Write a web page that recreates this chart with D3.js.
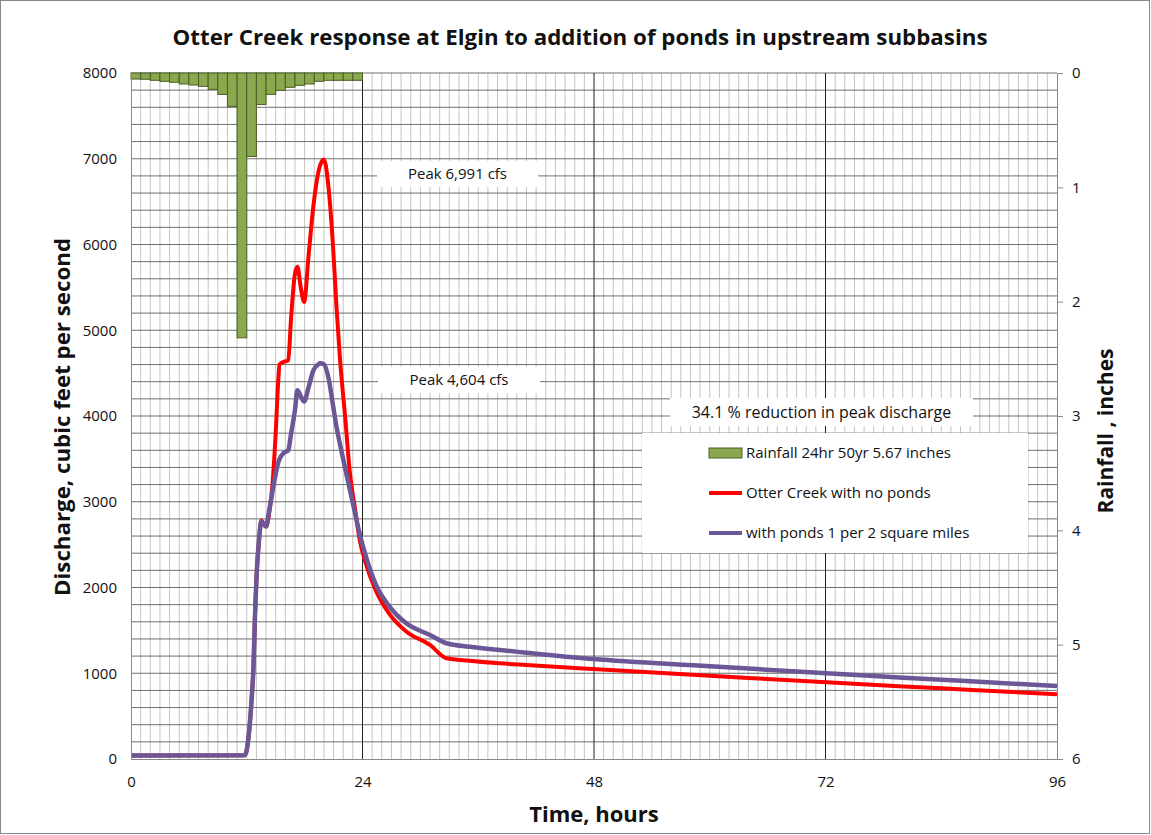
<!DOCTYPE html>
<html>
<head>
<meta charset="utf-8">
<script src="https://cdn.jsdelivr.net/npm/d3@7"></script>
<style>
  body { margin: 0; background: #fff; }
  text { font-family: "Open Sans", "Liberation Sans", sans-serif; }
</style>
</head>
<body>
<script>
// Valeurs
var heures = [0, 11.8, 12.15, 12.5, 12.7, 12.85, 13.0, 13.3, 13.5, 14.0, 14.3, 14.7, 15.0, 15.25, 15.4, 15.8,
  16.3, 16.6, 17.0, 17.25, 17.6, 17.95, 18.4, 18.9, 19.4, 19.6, 20.0, 20.5, 20.95, 21.3, 21.65, 22.2, 22.7,
  23.2, 23.7, 24.4, 25.4, 26.8, 28.5, 31.0, 32.7, 35.1, 38.2, 41.0, 47.9, 60, 72.1, 84, 96];
var sansBassins = [40, 45, 220, 690, 1080, 1660, 2090, 2590, 2780, 2710, 2850, 3250, 3800, 4380, 4600, 4630,
  4650, 5150, 5660, 5740, 5500, 5330, 5860, 6440, 6830, 6920, 6991, 6640, 5970, 5280, 4690, 3990, 3330,
  2940, 2560, 2260, 1960, 1690, 1490, 1330, 1175, 1146, 1116, 1096, 1050, 972, 894, 824, 754];
var avecBassins = [40, 45, 220, 690, 1080, 1660, 2090, 2590, 2770, 2710, 2880, 3140, 3320, 3450, 3500, 3565,
  3600, 3800, 4070, 4300, 4230, 4170, 4330, 4530, 4600, 4614, 4604, 4430, 4120, 3875, 3680, 3390, 3137,
  2880, 2630, 2345, 2030, 1776, 1585, 1446, 1350, 1310, 1271, 1240, 1166, 1083, 999, 925, 851];
// Pluie horaire (pouces), heures 0 a 23
var pluie = [0.053, 0.055, 0.064, 0.073, 0.081, 0.096, 0.105, 0.117, 0.143, 0.187, 0.292, 2.316,
  0.73, 0.275, 0.187, 0.152, 0.125, 0.108, 0.096, 0.073, 0.064, 0.064, 0.064, 0.064];
var ticksX = [0, 24, 48, 72, 96];
var ticksQ = [0, 1000, 2000, 3000, 4000, 5000, 6000, 7000, 8000];
var ticksP = [0, 1, 2, 3, 4, 5, 6];

var larg = 1151, haut = 835;
var m = {left: 131, right: 1057, top: 73, bottom: 759};

var svg = d3.select("body").append("svg")
  .attr("width", larg).attr("height", haut);

svg.append("rect").attr("x", 0.5).attr("y", 0.5)
  .attr("width", larg - 2).attr("height", haut - 2)
  .attr("fill", "#fff").attr("stroke", "#888");

var x = d3.scaleLinear().domain([0, 96]).range([m.left, m.right]);
var y = d3.scaleLinear().domain([0, 8000]).range([m.bottom, m.top]);
var y2 = d3.scaleLinear().domain([0, 6]).range([m.top, m.bottom]);

// Grille
var grille = svg.append("g");
grille.selectAll("line.v")
  .data(d3.range(1, 97).filter(function(h) { return h % 24 != 0; }))
  .enter().append("line")
  .attr("x1", function(d) { return x(d); }).attr("x2", function(d) { return x(d); })
  .attr("y1", m.top).attr("y2", m.bottom)
  .attr("stroke", "#c4c4c4").attr("stroke-width", 1);
grille.selectAll("line.h")
  .data(d3.range(200, 8001, 200))
  .enter().append("line")
  .attr("x1", m.left).attr("x2", m.right)
  .attr("y1", function(d) { return y(d); }).attr("y2", function(d) { return y(d); })
  .attr("stroke", "#6e6e6e").attr("stroke-width", 1);
grille.selectAll("line.maj")
  .data([24, 48, 72])
  .enter().append("line")
  .attr("x1", function(d) { return x(d); }).attr("x2", function(d) { return x(d); })
  .attr("y1", m.top).attr("y2", m.bottom)
  .attr("stroke", "#222").attr("stroke-width", 1);

// Barres de pluie
svg.append("g").selectAll("rect")
  .data(pluie)
  .enter().append("rect")
  .attr("x", function(d, i) { return x(i); })
  .attr("y", y2(0))
  .attr("width", function(d, i) { return x(i + 1) - x(i); })
  .attr("height", function(d) { return y2(d) - y2(0); })
  .attr("fill", "#8aa84e")
  .attr("stroke", "#4a5e26").attr("stroke-width", 1);

// Boites de texte
function boite(x0, y0, w, h, txt, taille) {
  svg.append("rect").attr("x", x0).attr("y", y0).attr("width", w).attr("height", h).attr("fill", "#fff");
  svg.append("text").attr("x", x0 + w / 2).attr("y", y0 + h / 2).attr("dy", "0.35em")
    .attr("text-anchor", "middle").attr("font-size", taille).attr("fill", "#111").text(txt);
}
boite(377, 161, 161, 26, "Peak 6,991 cfs", "15px");
boite(378, 367, 162, 26, "Peak 4,604 cfs", "15px");
boite(670, 398, 303, 28, "34.1 % reduction in peak discharge", "16px");

// Legende
svg.append("rect").attr("x", 642).attr("y", 433).attr("width", 386).attr("height", 120).attr("fill", "#fff");
var leg = [
  {nom: "Rainfall 24hr 50yr 5.67 inches", type: "bar", c: "#8aa84e"},
  {nom: "Otter Creek with no ponds", type: "line", c: "#ff0000"},
  {nom: "with ponds 1 per 2 square miles", type: "line", c: "#6b5796"}
];
leg.forEach(function(d, i) {
  var yy = 453 + i * 40;
  if (d.type == "bar") {
    svg.append("rect").attr("x", 709).attr("y", yy - 5).attr("width", 33).attr("height", 10)
      .attr("fill", d.c).attr("stroke", "#4a5e26");
  } else {
    svg.append("line").attr("x1", 709).attr("x2", 742).attr("y1", yy).attr("y2", yy)
      .attr("stroke", d.c).attr("stroke-width", 4);
  }
  svg.append("text").attr("x", 746).attr("y", yy).attr("dy", "0.35em")
    .attr("font-size", "15px").attr("fill", "#111").text(d.nom);
});

// Courbes
var ligne = function(vals) {
  return d3.line()
    .x(function(d, i) { return x(heures[i]); })
    .y(function(d) { return y(d); })
    .curve(d3.curveMonotoneX)(vals);
};
svg.append("path").attr("d", ligne(sansBassins))
  .attr("fill", "none").attr("stroke", "#ff0000").attr("stroke-width", 4).attr("stroke-linejoin", "round");
svg.append("path").attr("d", ligne(avecBassins))
  .attr("fill", "none").attr("stroke", "#6b5796").attr("stroke-width", 4.5).attr("stroke-linejoin", "round");

// Axes
var axeG = svg.append("g").attr("transform", "translate(" + m.left + ",0)")
  .call(d3.axisLeft(y).tickValues(ticksQ).tickSize(0).tickPadding(14).tickFormat(d3.format("d")));
var axeD = svg.append("g").attr("transform", "translate(" + m.right + ",0)")
  .call(d3.axisRight(y2).tickValues(ticksP).tickSize(6).tickPadding(9).tickFormat(d3.format("d")));
var axeB = svg.append("g").attr("transform", "translate(0," + m.bottom + ")")
  .call(d3.axisBottom(x).tickValues(ticksX).tickSize(0).tickPadding(17));
[axeG, axeD, axeB].forEach(function(a) {
  a.select(".domain").attr("stroke", "#888");
  a.selectAll(".tick line").attr("stroke", "#888");
  a.selectAll("text").attr("font-size", "15px").attr("fill", "#111")
    .attr("font-family", "'Open Sans', 'Liberation Sans', sans-serif");
});

// Titres
svg.append("text").attr("x", 580).attr("y", 45).attr("text-anchor", "middle")
  .attr("font-size", "21px").attr("font-weight", "bold").attr("fill", "#111")
  .attr("textLength", 815).attr("lengthAdjust", "spacingAndGlyphs")
  .text("Otter Creek response at Elgin to addition of ponds in upstream subbasins");
svg.append("text").attr("x", 594).attr("y", 822).attr("text-anchor", "middle")
  .attr("font-size", "22px").attr("font-weight", "bold").attr("fill", "#111")
  .text("Time, hours");
svg.append("text").attr("transform", "translate(70,417) rotate(-90)").attr("text-anchor", "middle")
  .attr("font-size", "21px").attr("font-weight", "bold").attr("fill", "#111")
  .attr("textLength", 358).attr("lengthAdjust", "spacingAndGlyphs")
  .text("Discharge, cubic feet per second");
svg.append("text").attr("transform", "translate(1113,431) rotate(-90)").attr("text-anchor", "middle")
  .attr("font-size", "21px").attr("font-weight", "bold").attr("fill", "#111")
  .text("Rainfall , inches");
</script>
</body>
</html>
